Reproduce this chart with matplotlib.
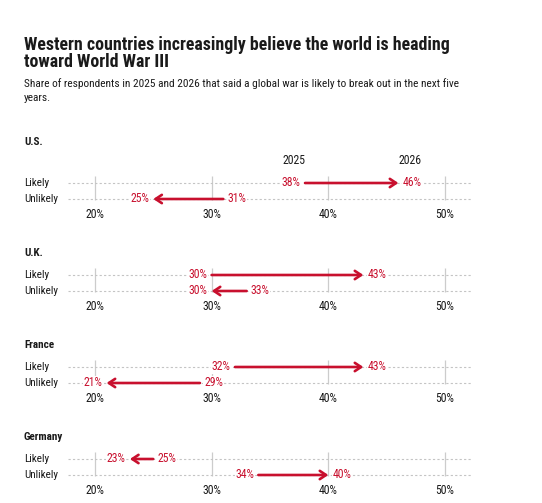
import matplotlib
matplotlib.use("Agg")
import matplotlib.pyplot as plt
from matplotlib import font_manager

# pick a narrow font if one is installed
fonts = {(f.name, f.stretch) for f in font_manager.fontManager.ttflist}
names = {f[0] for f in fonts}
if "Roboto Condensed" in names:
    FONT, STRETCH = "Roboto Condensed", "normal"
elif "Liberation Sans Narrow" in names:
    FONT, STRETCH = "Liberation Sans Narrow", "normal"
elif ("DejaVu Sans", "condensed") in fonts or ("DejaVu Sans", 300) in fonts:
    FONT, STRETCH = "DejaVu Sans", "condensed"
else:
    FONT, STRETCH = "Roboto", "normal"
plt.rcParams["font.family"] = FONT
plt.rcParams["font.stretch"] = STRETCH

# data
countries = ["U.S.", "U.K.", "France", "Germany"]
row_labels = ["Likely", "Unlikely"]
likely_2025 = [38, 30, 32, 25]
likely_2026 = [46, 43, 43, 23]
unlikely_2025 = [31, 33, 29, 34]
unlikely_2026 = [25, 30, 21, 40]
ticks = [20, 30, 40, 50]
tick_labels = ["20%", "30%", "40%", "50%"]

RED = "#c8102e"
TXT = "#1a1a1a"
W, H = 542, 503

fig = plt.figure(figsize=(W / 100, H / 100), dpi=100)


def fy(px):
    return 1 - px / H


fig.text(24 / W, fy(45), "Western countries increasingly believe the world is heading",
         fontsize=12.9, fontweight="bold", color=TXT, va="center")
fig.text(24 / W, fy(62), "toward World War III",
         fontsize=12.9, fontweight="bold", color=TXT, va="center")
fig.text(24 / W, fy(84), "Share of respondents in 2025 and 2026 that said a global war is likely to break out in the next five",
         fontsize=8.2, color=TXT, va="center")
fig.text(24 / W, fy(98), "years.", fontsize=8.2, color=TXT, va="center")

row_top = [183, 275, 367, 459]   # pixel y of "Likely" row
step = 16
x0, x1 = 68, 472
xmin, xmax = 17.7, 52.3

for i, country in enumerate(countries):
    yl = row_top[i]
    top = yl - 9
    bottom = yl + step + 9
    ax = fig.add_axes([x0 / W, fy(bottom), (x1 - x0) / W, (bottom - top) / H])
    ax.set_xlim(xmin, xmax)
    ax.set_ylim(1 + 9 / step, -9 / step)
    for s in ax.spines.values():
        s.set_visible(False)
    ax.set_yticks([])
    ax.set_xticks(ticks)
    ax.set_xticklabels(tick_labels, fontsize=8.5, color=TXT)
    ax.tick_params(axis="x", length=0, pad=0)
    ax.patch.set_alpha(0)

    ax.vlines(ticks, -0.42, 1.05, color="#cccccc", lw=0.9, zorder=1)
    ax.hlines([0, 1], xmin, xmax, color="#c4c4c4", lw=0.8, linestyles=(0, (2, 2)), zorder=1)

    fig.text(24 / W, fy(yl - (41 if i == 0 else 22)), country, fontsize=8,
             fontweight="bold", color=TXT, va="center")

    pairs = [(likely_2025[i], likely_2026[i]), (unlikely_2025[i], unlikely_2026[i])]
    for r, (a, b) in enumerate(pairs):
        fig.text(24 / W, fy(yl + r * step), row_labels[r], fontsize=8, color=TXT, va="center")
        d = 1 if b > a else -1
        ax.annotate("", xy=(b, r), xytext=(a, r),
                    arrowprops=dict(arrowstyle="->,head_length=0.45,head_width=0.3",
                                    color=RED, lw=1.9, shrinkA=0, shrinkB=0),
                    zorder=3)
        bb = dict(facecolor="white", edgecolor="none", pad=0.5)
        ax.annotate(f"{a}%", (a, r), xytext=(-3 * d, 0), textcoords="offset points",
                    ha="right" if d > 0 else "left", va="center", fontsize=8.5,
                    color=RED, bbox=bb, zorder=4)
        ax.annotate(f"{b}%", (b, r), xytext=(3 * d, 0), textcoords="offset points",
                    ha="left" if d > 0 else "right", va="center", fontsize=8.5,
                    color=RED, bbox=bb, zorder=4)

    if i == 0:
        ax.annotate("2025", (likely_2025[0], 0), xytext=(0, 16), textcoords="offset points",
                    ha="right", va="center", fontsize=8.5,
                    color=TXT, annotation_clip=False)
        ax.annotate("2026", (likely_2026[0], 0), xytext=(0, 16), textcoords="offset points",
                    ha="left", va="center", fontsize=8.5,
                    color=TXT, annotation_clip=False)

fig.savefig("out.png", dpi=100, facecolor="white")
